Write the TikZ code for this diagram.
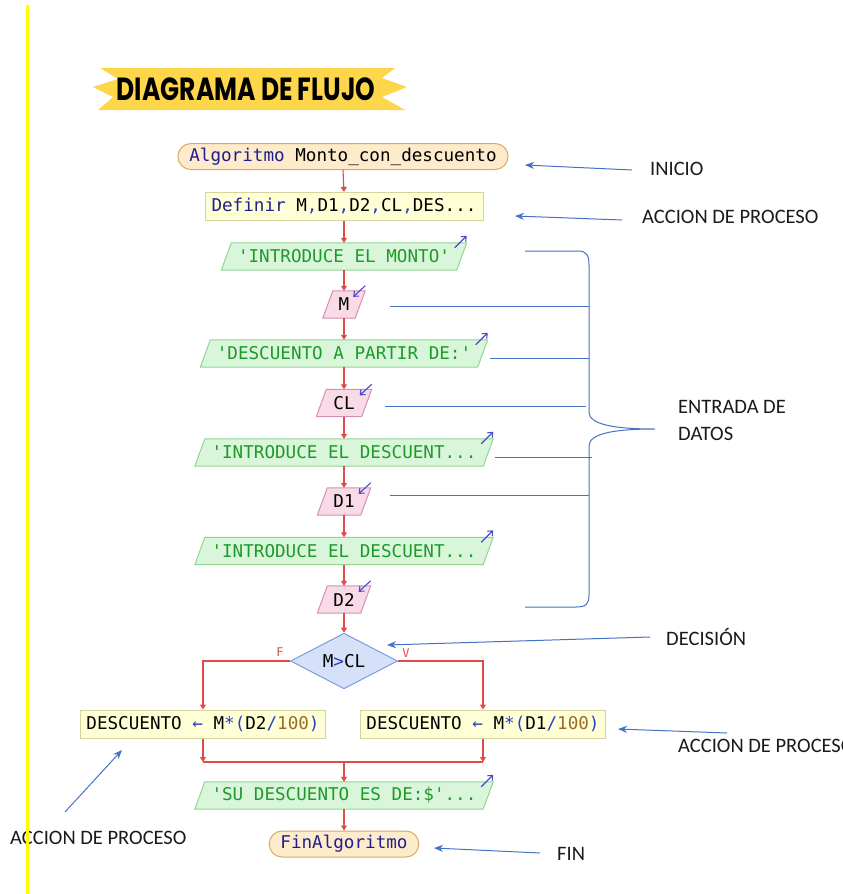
\documentclass[tikz,border=0pt]{standalone}
\usepackage{fontspec}
\setmainfont{Carlito}
\newfontfamily\codefont{DejaVu Sans Mono}
\newfontfamily\titlefont{Poppins}
\usetikzlibrary{shapes.geometric,shapes.misc,arrows.meta,calc,backgrounds}
\definecolor{kw}{HTML}{1F1F8F}
\definecolor{op}{HTML}{2B3FC0}
\definecolor{num}{HTML}{9A6A2A}
\definecolor{strg}{HTML}{1E9A2A}
\definecolor{flow}{HTML}{E04A4A}
\definecolor{ann}{HTML}{4472C4}
\definecolor{termfill}{HTML}{FDEBCB}
\definecolor{termdraw}{HTML}{D9A868}
\definecolor{procfill}{HTML}{FFFFD6}
\definecolor{procdraw}{HTML}{D6D49C}
\definecolor{outfill}{HTML}{DAF6DA}
\definecolor{outdraw}{HTML}{92D692}
\definecolor{infill}{HTML}{F9DAE7}
\definecolor{indraw}{HTML}{D68FB2}
\definecolor{decfill}{HTML}{D5E1F8}
\definecolor{decdraw}{HTML}{7D9BDF}
\definecolor{iomk}{HTML}{4A4AC8}
\definecolor{ribbon}{HTML}{FDD64B}
\definecolor{rulecol}{HTML}{FFFF00}
\definecolor{labtext}{HTML}{1A1A1A}
\newcommand{\cf}{\codefont\fontsize{17.6pt}{20pt}\selectfont}
\begin{document}
\begin{tikzpicture}[x=1pt,y=-1pt,
  term/.style={rounded rectangle, draw=termdraw, fill=termfill, line width=1pt, minimum height=26pt, inner xsep=8pt, inner ysep=0pt, font=\cf},
  proc/.style={rectangle, draw=procdraw, fill=procfill, line width=1pt, minimum height=28pt, inner xsep=6pt, inner ysep=0pt, font=\cf},
  paranode/.style={rectangle, minimum height=27pt, inner sep=0pt, font=\cf},
  outp/.style={paranode, text=strg},
  inp/.style={paranode},
  decn/.style={diamond, draw=decdraw, fill=decfill, line width=1pt, minimum width=107pt, minimum height=54pt, inner sep=0pt, font=\cf},
  flowline/.style={draw=flow, line width=1.1pt},
  flowarrow/.style={flowline, -{Triangle[width=6pt,length=5pt]}},
  annarrow/.style={draw=ann, line width=1pt, -{Stealth[width=7pt,length=9pt]}},
  annline/.style={draw=ann, line width=1pt},
  annlabel/.style={font=\fontsize{20.5pt}{27pt}\selectfont, text=labtext, inner sep=0pt, anchor=west},
  iomark/.style={draw=iomk, line width=1.1pt, -{Straight Barb[length=4pt,width=7pt]}},
  branchlab/.style={font=\codefont\fontsize{12pt}{14pt}\selectfont, text=flow, inner sep=0pt}
]
\useasboundingbox (0,0) rectangle (843,894);

% title ribbon
\fill[ribbon] (100,68) -- (395,68) -- (382,78) -- (407,87) -- (382,97) -- (405,110)
  -- (98,110) -- (113,97) -- (93,87) -- (118,79) -- cycle;
\node[font=\titlefont\bfseries\fontsize{32pt}{34pt}\selectfont, xscale=0.78, inner sep=0pt] (title) at (246,89) {DIAGRAMA DE FLUJO};

% flow nodes
\node[term, minimum width=325pt] (start) at (343,156.5) {\textcolor{kw}{Algoritmo} Monto\_con\_descuento};
\node[proc, minimum width=278pt] (def) at (344,206.5) {\textcolor{kw}{Definir} M\textcolor{op}{,}D1\textcolor{op}{,}D2\textcolor{op}{,}CL\textcolor{op}{,}DES...};
\node[outp, minimum width=235pt] (o1) at (344,256.5) {'INTRODUCE EL MONTO'};
\node[inp, minimum width=32pt] (i1) at (344,304.5) {M};
\node[outp, minimum width=277pt] (o2) at (344,353.5) {'DESCUENTO A PARTIR DE:'};
\node[inp, minimum width=45pt] (i2) at (344,403) {CL};
\node[outp, minimum width=288pt] (o3) at (344,452.5) {'INTRODUCE EL DESCUENT...};
\node[inp, minimum width=43pt] (i3) at (344,501.5) {D1};
\node[outp, minimum width=288pt] (o4) at (344,551) {'INTRODUCE EL DESCUENT...};
\node[inp, minimum width=43pt] (i4) at (344,599.5) {D2};
\node[decn] (dec) at (344,661) {M\textcolor{op}{>}CL};
\node[proc, minimum width=244pt] (lbox) at (203,724) {DESCUENTO \textcolor{op}{←} M\textcolor{op}{*(}D2\textcolor{op}{/}\textcolor{num}{100}\textcolor{op}{)}};
\node[proc, minimum width=242pt] (rbox) at (483,724) {DESCUENTO \textcolor{op}{←} M\textcolor{op}{*(}D1\textcolor{op}{/}\textcolor{num}{100}\textcolor{op}{)}};
\node[outp, minimum width=288pt] (o5) at (344,795.5) {'SU DESCUENTO ES DE:\$'...};
\node[term, minimum width=144pt] (fin) at (344,844) {\textcolor{kw}{FinAlgoritmo}};

% parallelogram outlines
\begin{scope}[on background layer]
\foreach \n in {o1,o2,o3,o4,o5}{
  \draw[fill=outfill, draw=outdraw, line width=1pt] ($(\n.south west)+(-5,0)$) -- ($(\n.south east)+(-5,0)$) -- ($(\n.north east)+(5,0)$) -- ($(\n.north west)+(5,0)$) -- cycle;
}
\foreach \n in {i1,i2,i3,i4}{
  \draw[fill=infill, draw=indraw, line width=1pt] ($(\n.south west)+(-5,0)$) -- ($(\n.south east)+(-5,0)$) -- ($(\n.north east)+(5,0)$) -- ($(\n.north west)+(5,0)$) -- cycle;
}
\end{scope}
\foreach \n in {o1,o2,o3,o4,o5}{
  \draw[iomark] ($(\n.north east)+(-7,5)$) -- ($(\n.north east)+(5,-7)$);
}
\foreach \n in {i1,i2,i3,i4}{
  \draw[iomark] ($(\n.north east)+(5,-5)$) -- ($(\n.north east)+(-7,6)$);
}

% flow connectors
\draw[flowarrow] (start.south) -- (def.north);
\draw[flowarrow] (def.south) -- (o1.north);
\draw[flowarrow] (o1.south) -- (i1.north);
\draw[flowarrow] (i1.south) -- (o2.north);
\draw[flowarrow] (o2.south) -- (i2.north);
\draw[flowarrow] (i2.south) -- (o3.north);
\draw[flowarrow] (o3.south) -- (i3.north);
\draw[flowarrow] (i3.south) -- (o4.north);
\draw[flowarrow] (o4.south) -- (i4.north);
\draw[flowarrow] (i4.south) -- (dec.north);
\draw[flowarrow] (dec.west) -| (lbox.north);
\draw[flowarrow] (dec.east) -| (rbox.north);
\node[branchlab] (lf) at (280,652) {F};
\node[branchlab] (lv) at (406,653) {V};
\coordinate (jL) at (203,762);
\coordinate (jR) at (483,762);
\coordinate (jM) at (344,762);
\draw[flowarrow] (lbox.south) -- (jL);
\draw[flowarrow] (rbox.south) -- (jR);
\draw[flowline] (jL) -- (jR);
\draw[flowarrow] (jM) -- (o5.north);
\draw[flowarrow] (o5.south) -- (fin.north);

% annotations
\node[annlabel] (tinicio) at (650,169) {INICIO};
\node[annlabel] (tacc1) at (642,217) {ACCION DE PROCESO};
\node[annlabel, align=left] (tentrada) at (678,420) {ENTRADA DE\\DATOS};
\node[annlabel] (tdec) at (666,637) {DECISIÓN};
\node[annlabel] (tacc2) at (678,746) {ACCION DE PROCESO};
\node[annlabel] (tacc3) at (10,838) {ACCION DE PROCESO};
\node[annlabel] (tfin) at (557,854) {FIN};

\coordinate (a1t) at (632,170); \coordinate (a1h) at (525,165);
\coordinate (a2t) at (622,220); \coordinate (a2h) at (515,216);
\coordinate (a3t) at (650,637); \coordinate (a3h) at (387,645);
\coordinate (a4t) at (727,733); \coordinate (a4h) at (618,729);
\coordinate (a5t) at (65,812);  \coordinate (a5h) at (122,750);
\coordinate (a6t) at (540,853); \coordinate (a6h) at (434,848);
\draw[annarrow] (a1t) -- (a1h);
\draw[annarrow] (a2t) -- (a2h);
\draw[annarrow] (a3t) -- (a3h);
\draw[annarrow] (a4t) -- (a4h);
\draw[annarrow] (a5t) -- (a5h);
\draw[annarrow] (a6t) -- (a6h);

% brace
\draw[annline] (525,251) -- (578,251) .. controls (587,251) and (589,256) .. (589,265)
  -- (589,412) .. controls (589,424) and (612,429) .. (655,429)
  .. controls (612,429) and (589,434) .. (589,446)
  -- (589,595) .. controls (589,604) and (586,607) .. (576,607) -- (525,607);
\draw[annline] (390,306) -- (589,306);
\draw[annline] (490,358) -- (589,358);
\draw[annline] (385,406) -- (586,406);
\draw[annline] (495,457) -- (592,457);
\draw[annline] (390,495) -- (589,495);

% yellow margin rule
\draw[rulecol, line width=3pt] (27,5) -- (27,894);
\end{tikzpicture}
\end{document}
